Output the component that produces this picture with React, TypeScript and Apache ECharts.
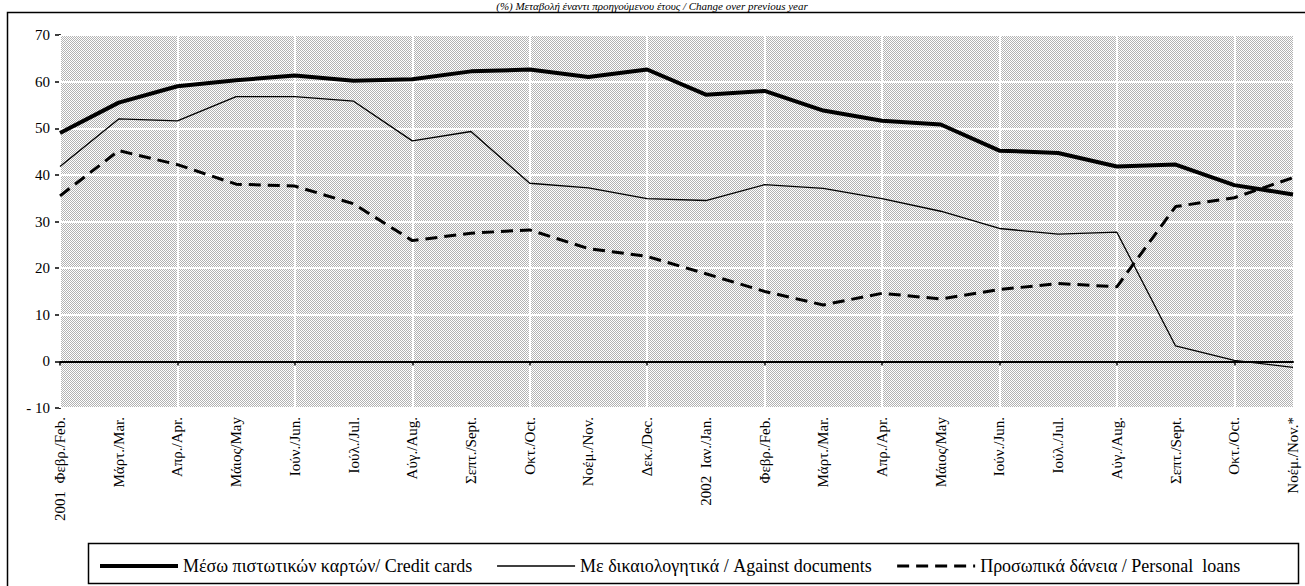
import React, { useEffect, useRef } from "react";
import * as echarts from "echarts";

const categories = [
  "2001  Φεβρ./Feb.", "Μάρτ./Mar.", "Απρ./Apr.", "Μάιος/May", "Ιούν./Jun.", "Ιούλ./Jul.",
  "Αύγ./Aug.", "Σεπτ./Sept.", "Οκτ./Oct.", "Νοέμ./Nov.", "Δεκ./Dec.", "2002  Ιαν./Jan.",
  "Φεβρ./Feb.", "Μάρτ./Mar.", "Απρ./Apr.", "Μάιος/May", "Ιούν./Jun.", "Ιούλ./Jul.",
  "Αύγ./Aug.", "Σεπτ./Sept.", "Οκτ./Oct.", "Νοέμ./Nov.*",
];

const creditCards = [49, 55.5, 59, 60.3, 61.3, 60.2, 60.5, 62.2, 62.6, 61, 62.6, 57.2, 58, 53.8, 51.6, 50.8, 45.2, 44.7, 41.8, 42.2, 37.8, 35.8];
const againstDocuments = [41.8, 52, 51.6, 56.8, 56.8, 55.8, 47.3, 49.3, 38.2, 37.2, 34.9, 34.5, 37.9, 37.1, 34.9, 32.2, 28.5, 27.3, 27.7, 3.3, 0.2, -1.3];
const personalLoans = [35.5, 45.2, 42.2, 38, 37.6, 33.8, 25.9, 27.5, 28.2, 24.2, 22.5, 18.8, 15, 12.1, 14.6, 13.4, 15.4, 16.7, 16, 33.2, 35.1, 39.4];

const seriesNames = [
  "Μέσω πιστωτικών καρτών/ Credit cards",
  "Με δικαιολογητικά / Against documents",
  "Προσωπικά δάνεια / Personal  loans",
];
const titleText = "(%) Μεταβολή έναντι προηγούμενου έτους / Change over previous year";

const FONT = "Liberation Serif";

export default function App() {
  const ref = useRef<HTMLDivElement>(null);
  useEffect(() => {
    if (!ref.current) return;
    const chart = echarts.init(ref.current, null, { renderer: "svg" });

    let bg: any = "#d6d6d6";
    try {
      const c = document.createElement("canvas");
      c.width = 2;
      c.height = 2;
      const ctx = c.getContext("2d");
      if (ctx) {
        ctx.fillStyle = "#ffffff";
        ctx.fillRect(0, 0, 2, 2);
        ctx.fillStyle = "#b2b2b2";
        ctx.fillRect(0, 0, 1, 1);
        ctx.fillRect(1, 1, 1, 1);
        bg = { image: c, repeat: "repeat" };
      }
    } catch (e) {
      bg = "#d6d6d6";
    }

    chart.setOption({
      animation: false,
      backgroundColor: "#ffffff",
      textStyle: { fontFamily: FONT },
      grid: {
        show: true,
        left: 60,
        top: 35,
        right: 12,
        height: 373,
        backgroundColor: bg,
        borderWidth: 0,
        containLabel: false,
      },
      graphic: [
        {
          type: "rect",
          shape: { x: 7.5, y: 12.5, width: 1310, height: 600 },
          style: { fill: "none", stroke: "#000", lineWidth: 1.5 },
          silent: true,
          z: -10,
        },
        {
          type: "rect",
          shape: { x: 88.5, y: 543.5, width: 1210, height: 40 },
          style: { fill: "none", stroke: "#000", lineWidth: 1.5 },
          silent: true,
        },
        {
          type: "text",
          x: 652,
          y: 0,
          style: {
            text: titleText,
            fontFamily: FONT,
            fontSize: 11,
            fontStyle: "italic",
            fill: "#000",
            align: "center",
            verticalAlign: "top",
          },
        },
      ],
      legend: {
        top: 552,
        left: 93,
        itemWidth: 78,
        itemHeight: 10,
        itemGap: 24,
        itemStyle: { opacity: 0 },
        textStyle: { fontFamily: FONT, fontSize: 18, color: "#000" },
        data: [
          { name: seriesNames[0], lineStyle: { width: 4, color: "#000" } },
          { name: seriesNames[1], lineStyle: { width: 1.5, color: "#000" } },
          { name: seriesNames[2], lineStyle: { width: 3, color: "#000", type: [12, 7] } },
        ],
      },
      xAxis: [
        {
          type: "category",
          data: categories,
          boundaryGap: false,
          axisLine: { onZero: true, lineStyle: { color: "#000", width: 2 } },
          axisTick: { show: true, length: 4, lineStyle: { color: "#000", width: 1.5 } },
          axisLabel: { show: false },
          splitLine: { show: true, lineStyle: { color: "#ffffff", width: 2 } },
          z: 5,
        },
        {
          type: "category",
          data: categories,
          boundaryGap: false,
          position: "bottom",
          axisLine: { show: false },
          axisTick: { show: false },
          splitLine: { show: false },
          axisLabel: {
            show: true,
            rotate: 90,
            interval: 0,
            margin: 9,
            fontFamily: FONT,
            fontSize: 15,
            color: "#000",
          },
        },
      ],
      yAxis: {
        type: "value",
        min: -10,
        max: 70,
        interval: 10,
        axisLine: { show: true, lineStyle: { color: "#000", width: 2 } },
        axisTick: { show: true, length: 5, lineStyle: { color: "#000", width: 1.5 } },
        axisLabel: {
          fontFamily: FONT,
          fontSize: 15,
          color: "#000",
          margin: 10,
          formatter: (v: number) => (v < 0 ? "- " + Math.abs(v) : String(v)),
        },
        splitLine: { show: true, lineStyle: { color: "#ffffff", width: 2 } },
      },
      series: [
        {
          name: seriesNames[0],
          type: "line",
          data: creditCards,
          symbol: "none",
          lineStyle: { color: "#000", width: 4 },
          itemStyle: { color: "#000" },
          z: 10,
        },
        {
          name: seriesNames[1],
          type: "line",
          data: againstDocuments,
          symbol: "none",
          lineStyle: { color: "#000", width: 1.3 },
          itemStyle: { color: "#000" },
          z: 9,
        },
        {
          name: seriesNames[2],
          type: "line",
          data: personalLoans,
          symbol: "none",
          lineStyle: { color: "#000", width: 3, type: [12, 7] },
          itemStyle: { color: "#000" },
          z: 8,
        },
      ],
    });
    return () => chart.dispose();
  }, []);
  return (
    <div
      ref={ref}
      style={{ position: "fixed", left: 0, top: 0, width: 1305, height: 586 }}
    />
  );
}
